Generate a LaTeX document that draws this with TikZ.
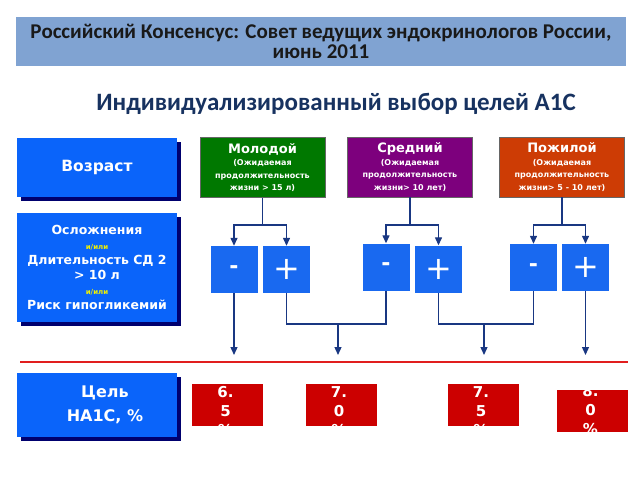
\documentclass[tikz,border=0pt]{standalone}
\usepackage{fontspec}
\setmainfont{DejaVu Sans}
\newfontfamily\calibrifont{Carlito}
\usepackage{tikz}
\usetikzlibrary{arrows.meta, shadows}
\definecolor{headblue}{RGB}{128,163,210}
\definecolor{headtext}{RGB}{25,25,25}
\definecolor{subnavy}{RGB}{23,50,96}
\definecolor{boxblue}{RGB}{10,100,250}
\definecolor{shadownavy}{RGB}{0,0,110}
\definecolor{sqblue}{RGB}{25,105,240}
\definecolor{younggreen}{RGB}{0,120,0}
\definecolor{midpurple}{RGB}{125,0,125}
\definecolor{oldorange}{RGB}{205,60,5}
\definecolor{valred}{RGB}{204,0,0}
\definecolor{arrnavy}{RGB}{25,55,130}
\definecolor{redline}{RGB}{225,30,30}
\definecolor{oryellow}{RGB}{240,240,0}

\begin{document}
\begin{tikzpicture}[x=1pt,y=-1pt,
    leftbox/.style={fill=boxblue, text=white, font=\bfseries, align=center, inner sep=0pt,
        minimum width=160pt, drop shadow={shadow xshift=4pt, shadow yshift=-4pt, fill=shadownavy, opacity=1}},
    agebox/.style={draw=black!60, line width=0.6pt, text=white, align=center, inner sep=0pt,
        minimum width=125pt, minimum height=60pt, font=\fontsize{8}{12.5}\selectfont\bfseries},
    sqbox/.style={fill=sqblue, text=white, inner sep=0pt, minimum size=47pt},
    valbox/.style={fill=valred, inner sep=0pt, minimum width=71pt, minimum height=42pt},
    valtext/.style={text=white, font=\fontsize{15}{19}\selectfont\bfseries, align=center, inner sep=0pt},
    link/.style={draw=arrnavy, line width=1.3pt},
    arr/.style={link, -{Triangle[length=8pt,width=7pt]}}]
\useasboundingbox (0,0) rectangle (640,480);

% header
\node[fill=headblue, minimum width=610pt, minimum height=49pt, inner sep=0pt, text=headtext, align=center,
    font=\calibrifont\bfseries\fontsize{21}{20}\selectfont] (head) at (321,41)
    {Российский Консенсус: Совет ведущих эндокринологов России,\\июнь 2011};
\node[text=subnavy, font=\calibrifont\bfseries\fontsize{25}{26}\selectfont] (sub) at (336,104)
    {Индивидуализированный выбор целей А1С};

% left column
\node[leftbox, minimum height=59pt, font=\fontsize{15.5}{18}\selectfont\bfseries] (age) at (97,167.5) {Возраст};
\node[leftbox, minimum height=109pt, font=\fontsize{12.5}{15}\selectfont\bfseries] (risk) at (97,267.5)
    {Осложнения\\{\fontsize{7}{8}\selectfont\color{oryellow}и/или}\\Длительность СД 2\\> 10 л\\
     {\fontsize{7}{8}\selectfont\color{oryellow}и/или}\\Риск гипогликемий};
\node[leftbox, minimum height=64pt] (goal) at (97,405) {};
\node[text=white, font=\fontsize{16}{24}\selectfont\bfseries, align=center] (goaltxt) at (105,405) {Цель\\НА1С, \%};

% age groups
\node[agebox, fill=younggreen] (young) at (262.5,167.5)
    {{\fontsize{13}{14}\selectfont Молодой}\\(Ожидаемая\\продолжительность\\жизни > 15 л)};
\node[agebox, fill=midpurple] (mid) at (410,167)
    {{\fontsize{13}{14}\selectfont Средний}\\(Ожидаемая\\продолжительность\\жизни> 10 лет)};
\node[agebox, fill=oldorange] (old) at (562,167)
    {{\fontsize{13}{14}\selectfont Пожилой}\\(Ожидаемая\\продолжительность\\жизни> 5 - 10 лет)};

% minus / plus
\node[sqbox, font=\fontsize{22}{22}\selectfont\bfseries] (ymin) at (234,269.5) {-};
\node[sqbox, font=\fontsize{32}{32}\selectfont] (yplus) at (286.5,269.5) {+};
\node[sqbox, font=\fontsize{22}{22}\selectfont\bfseries] (mmin) at (386,267) {-};
\node[sqbox, font=\fontsize{32}{32}\selectfont] (mplus) at (438.5,269) {+};
\node[sqbox, font=\fontsize{22}{22}\selectfont\bfseries] (omin) at (533.5,267.5) {-};
\node[sqbox, font=\fontsize{32}{32}\selectfont] (oplus) at (585.5,267.5) {+};

\coordinate (yb) at (young.south |- 0,225);
\coordinate (mb) at (mid.south |- 0,225);
\coordinate (ob) at (old.south |- 0,225);
\draw[link] (young.south) -- (yb);
\draw[arr] (yb) -| (ymin.north);
\draw[arr] (yb) -| (yplus.north);
\draw[link] (mid.south) -- (mb);
\draw[arr] (mb) -| (mmin.north);
\draw[arr] (mb) -| (mplus.north);
\draw[link] (old.south) -- (ob);
\draw[arr] (ob) -| (omin.north);
\draw[arr] (ob) -| (oplus.north);

% targets
\coordinate (j70) at (338,324);
\coordinate (j75) at (484,324);
\coordinate (t65) at (ymin.south |- 0,355);
\coordinate (t70) at (j70 |- 0,355);
\coordinate (t75) at (j75 |- 0,355);
\coordinate (t80) at (oplus.south |- 0,355);
\draw[arr] (ymin.south) -- (t65);
\draw[link] (yplus.south) |- (j70) -| (mmin.south);
\draw[arr] (j70) -- (t70);
\draw[link] (mplus.south) |- (j75) -| (omin.south);
\draw[arr] (j75) -- (t75);
\draw[arr] (oplus.south) -- (t80);

\draw[redline, line width=1.2pt] (20,362) coordinate (lineL) -- (628,362) coordinate (lineR);

% values
\node[valbox] (v65) at (227.5,405) {};
\node[valbox] (v70) at (341,405) {};
\node[valbox] (v75) at (483,405) {};
\node[valbox] (v80) at (592.5,410.5) {};
\begin{scope}
\clip (v65.south west) rectangle (v65.north east);
\node[valtext, anchor=north] (v65txt) at (225.5,386) {6.\\5\\\%};
\end{scope}
\begin{scope}
\clip (v70.south west) rectangle (v70.north east);
\node[valtext, anchor=north] (v70txt) at (339,386) {7.\\0\\\%};
\end{scope}
\begin{scope}
\clip (v75.south west) rectangle (v75.north east);
\node[valtext, anchor=north] (v75txt) at (481,386) {7.\\5\\\%};
\end{scope}
\begin{scope}
\clip (v80.south west) rectangle (v80.north east);
\node[valtext, anchor=north] (v80txt) at (590.5,385) {8.\\0\\\%};
\end{scope}
\end{tikzpicture}
\end{document}
